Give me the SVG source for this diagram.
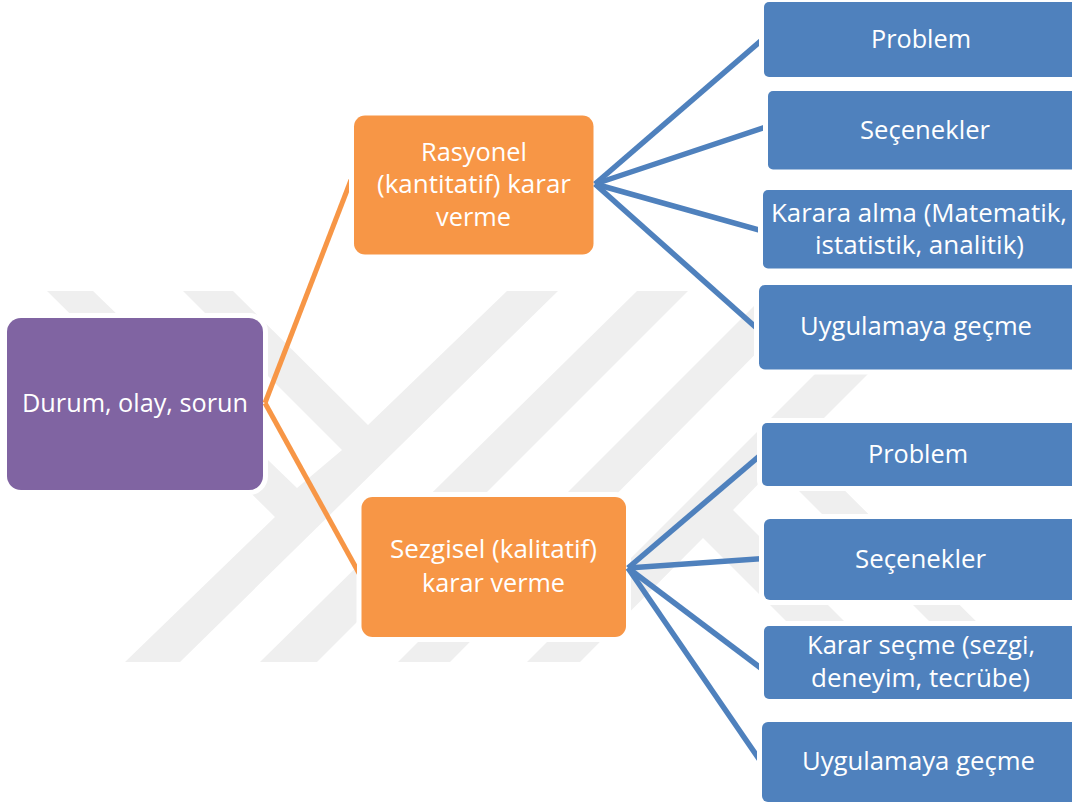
<svg xmlns="http://www.w3.org/2000/svg" width="1072" height="803" viewBox="0 0 1072 803">
<style>
.wm{fill:#efefef}
.box{stroke:#ffffff;stroke-width:10;paint-order:stroke}
.purple{fill:#8064a2}
.orange{fill:#f79646}
.blue{fill:#4f81bd}
.co{stroke:#f79646;stroke-width:5;fill:none}
.cb{stroke:#4f81bd;stroke-width:5.5;fill:none}
text{font-family:"Open Sans","Noto Sans","Liberation Sans",sans-serif;font-size:26px;fill:#ffffff}
</style>
<defs>
<clipPath id="clipOrange"><path clip-rule="evenodd" d="M0 0H1072V803H0Z M349 110H598V259H349Z M357 492H631V642H357Z"/></clipPath>
<clipPath id="clipBlue"><path clip-rule="evenodd" d="M0 0H1072V803H0Z M759 -3H1080V82H759Z M763 86H1080V174H763Z M758 185H1080V273H758Z M754 280H1080V374H754Z M757 418H1080V490H757Z M759 514H1080V605H759Z M759 621H1080V704H759Z M757 717H1080V807H757Z"/></clipPath>
</defs>
<rect width="1072" height="803" fill="#ffffff"/>
<g id="watermark">
<polygon class="wm" points="47,291 93,291 297,488 342,450 183,291 233,291 368,425 507,291 558,291 180,662 125,662 275,517"/>
<polygon class="wm" points="637,291 688,291 317,662 260,662"/>
<polygon class="wm" points="769,291 818,291 450,662 398,662"/>
<polygon class="wm" points="898,291 951,291 798,444 1017,662 970,662 775,467 733,510 885,662 827,662 703,538 580,662 527,662"/>
</g>
<g id="node-durum">
<rect class="box purple" x="7" y="318" width="256" height="172" rx="14"/>
<text x="22" y="412" textLength="226" lengthAdjust="spacingAndGlyphs">Durum, olay, sorun</text>
</g>
<g id="node-rasyonel">
<rect class="box orange" x="354" y="115.500" width="239.500" height="139" rx="11"/>
<text x="421" y="161" textLength="106" lengthAdjust="spacingAndGlyphs">Rasyonel</text>
<text x="377" y="193" textLength="194" lengthAdjust="spacingAndGlyphs">(kantitatif) karar</text>
<text x="436" y="226" textLength="75" lengthAdjust="spacingAndGlyphs">verme</text>
</g>
<g id="node-sezgisel">
<rect class="box orange" x="361.500" y="497" width="264.500" height="140" rx="11"/>
<text x="390" y="558" textLength="207" lengthAdjust="spacingAndGlyphs">Sezgisel (kalitatif)</text>
<text x="422" y="592" textLength="143" lengthAdjust="spacingAndGlyphs">karar verme</text>
</g>
<g id="node-problem-1">
<rect class="box blue" x="764" y="2" width="320" height="75" rx="5"/>
<text x="871" y="48" textLength="100" lengthAdjust="spacingAndGlyphs">Problem</text>
</g>
<g id="node-secenekler-1">
<rect class="box blue" x="768" y="91" width="320" height="78.500" rx="5"/>
<text x="860" y="139" textLength="130" lengthAdjust="spacingAndGlyphs">Seçenekler</text>
</g>
<g id="node-karara-alma">
<rect class="box blue" x="763" y="190" width="320" height="78.500" rx="5"/>
<text x="771" y="222" textLength="296" lengthAdjust="spacingAndGlyphs">Karara alma (Matematik,</text>
<text x="815" y="254" textLength="209" lengthAdjust="spacingAndGlyphs">istatistik, analitik)</text>
</g>
<g id="node-uygulama-1">
<rect class="box blue" x="759" y="285" width="320" height="84.500" rx="6"/>
<text x="800" y="335" textLength="232" lengthAdjust="spacingAndGlyphs">Uygulamaya geçme</text>
</g>
<g id="node-problem-2">
<rect class="box blue" x="762" y="423" width="320" height="63" rx="5"/>
<text x="868" y="463" textLength="100" lengthAdjust="spacingAndGlyphs">Problem</text>
</g>
<g id="node-secenekler-2">
<rect class="box blue" x="764" y="519" width="320" height="81" rx="6"/>
<text x="855" y="568" textLength="131" lengthAdjust="spacingAndGlyphs">Seçenekler</text>
</g>
<g id="node-karar-secme">
<rect class="box blue" x="764" y="626" width="320" height="73" rx="5"/>
<text x="807" y="654" textLength="228" lengthAdjust="spacingAndGlyphs">Karar seçme (sezgi,</text>
<text x="811" y="687" textLength="219" lengthAdjust="spacingAndGlyphs">deneyim, tecrübe)</text>
</g>
<g id="node-uygulama-2">
<rect class="box blue" x="762" y="722" width="320" height="80" rx="6"/>
<text x="802" y="770" textLength="233" lengthAdjust="spacingAndGlyphs">Uygulamaya geçme</text>
</g>
<g id="connectors">
<g clip-path="url(#clipOrange)">
<path class="co" d="M265 403L351 180"/>
<path class="co" d="M265 403L360 575"/>
</g>
<g clip-path="url(#clipBlue)">
<path class="cb" d="M595 184L770 33"/>
<path class="cb" d="M595 184L775 124"/>
<path class="cb" d="M595 184L770 233"/>
<path class="cb" d="M595 184L770 340"/>
<path class="cb" d="M628 568L770 447"/>
<path class="cb" d="M628 568L770 558"/>
<path class="cb" d="M628 568L770 675"/>
<path class="cb" d="M628 568L770 775"/>
</g>
</g>
</svg>
